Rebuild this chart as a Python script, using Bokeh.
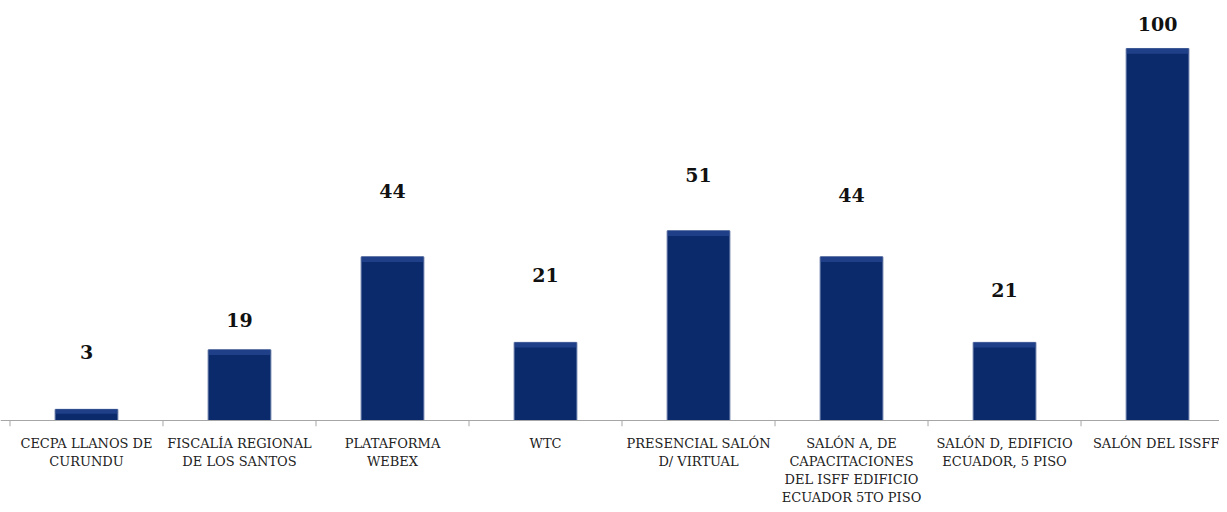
from bokeh.plotting import figure
from bokeh.models import Range1d, FixedTicker, LinearAxis, Span, ColumnDataSource
from bokeh.core.properties import value
from bokeh.embed import file_html
from bokeh.resources import INLINE

categories = [
    "CECPA LLANOS DE\nCURUNDU",
    "FISCALÍA REGIONAL\nDE LOS SANTOS",
    "PLATAFORMA\nWEBEX",
    "WTC",
    "PRESENCIAL SALÓN\nD/ VIRTUAL",
    "SALÓN A, DE\nCAPACITACIONES\nDEL ISFF EDIFICIO\nECUADOR 5TO PISO",
    "SALÓN D, EDIFICIO\nECUADOR, 5 PISO",
    "SALÓN DEL ISSFF",
]
values = [3, 19, 44, 21, 51, 44, 21, 100]
label_y = [18.3, 26.9, 61.8, 39.0, 65.9, 60.5, 35.2, 106.5]

n = len(categories)
centers = [i + 0.5 for i in range(n)]
bounds = list(range(n + 1))
bevel = 1.4

src = ColumnDataSource(dict(x=centers, top=values, ly=label_y,
                            btop=[v - min(bevel, v * 0.4) for v in values],
                            txt=[str(v) for v in values]))

p = figure(frame_width=1219, frame_height=426, output_backend="svg", toolbar_location=None,
           x_range=Range1d(-0.062, 7.905), y_range=Range1d(-1.61, 112.9),
           x_axis_type=None, y_axis_type=None,
           min_border_left=0, min_border_right=0, min_border_top=0, min_border_bottom=0)
p.outline_line_color = None
p.grid.visible = False
p.background_fill_color = "white"

p.add_layout(Span(location=0, dimension="width", line_color="#a6a6a6", line_width=1))
p.segment(x0=bounds, y0=[0] * len(bounds), x1=bounds, y1=[-1.61] * len(bounds),
          line_color="#a6a6a6", line_width=1)

p.vbar(x="x", top="top", bottom=0, width=0.41, source=src,
       fill_color="#0a2a6c", line_color="#5f74a3", line_width=1)
p.vbar(x="x", top="top", bottom="btop", width=0.40, source=src,
       fill_color="#1f4089", line_color=None)

p.text(x="x", y="ly", text="txt", source=src, text_align="center", text_baseline="middle",
       text_font=value("DejaVu Serif"), text_font_style="bold", text_font_size="19px",
       text_color="#111111")

ax = LinearAxis(ticker=FixedTicker(ticks=centers),
                major_label_overrides={c: lab for c, lab in zip(centers, categories)})
ax.axis_line_color = None
ax.major_tick_in = 0
ax.major_tick_out = 0
ax.minor_tick_line_color = None
ax.major_label_standoff = 9
ax.major_label_text_font = "DejaVu Serif"
ax.major_label_text_font_size = "13px"
ax.major_label_text_color = "#222222"
ax.major_label_orientation = "horizontal"
p.add_layout(ax, "below")

open("out.html", "w").write(file_html(p, INLINE))
